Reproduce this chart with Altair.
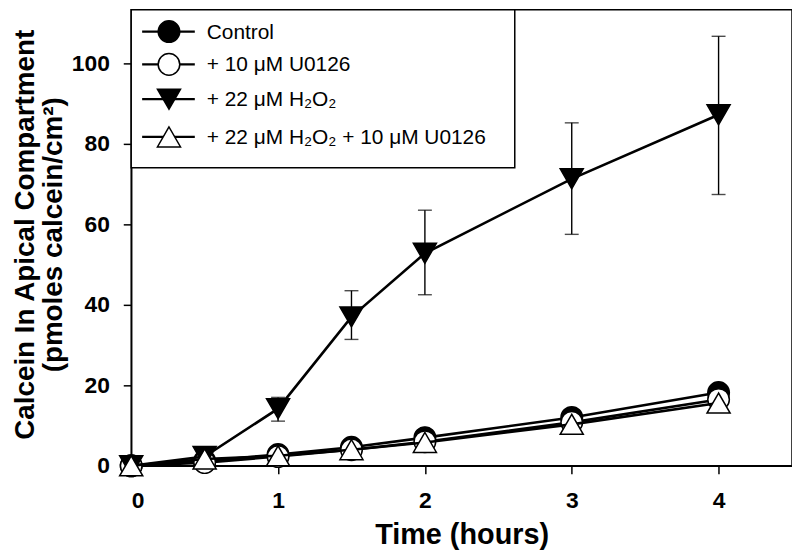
import altair as alt
import pandas as pd

# ---- data ----
times = [0, 0.5, 1, 1.5, 2, 3, 4]
series_names = ["Control", "+ 10 μM U0126", "+ 22 μM H₂O₂", "+ 22 μM H₂O₂ + 10 μM U0126"]
control = [0, 1.2, 2.8, 4.6, 7.0, 12.0, 18.2]
u0126 = [0, 0.8, 2.3, 4.0, 6.0, 10.8, 16.5]
h2o2 = [0, 2.3, 14.2, 37.0, 52.8, 71.3, 87.2]
h2o2_u0126 = [0, 1.7, 2.5, 4.0, 5.8, 10.3, 15.6]
err_times = [1, 1.5, 2, 3, 4]
h2o2_lo = [11.1, 31.4, 42.5, 57.5, 67.4]
h2o2_hi = [17.0, 43.5, 63.5, 85.2, 106.7]
x_ticks = [0, 1, 2, 3, 4]
y_ticks = [0, 20, 40, 60, 80, 100]

shapes = ["circle", "circle", "triangle-down", "triangle-up"]
fills = ["black", "white", "black", "white"]
sizes = [470, 470, 540, 540]

FONT = "Liberation Sans"

x_enc = alt.X(
    "t:Q",
    scale=alt.Scale(domain=[0, 4.5], nice=False, zero=False),
    axis=alt.Axis(values=x_ticks, title="Time (hours)", labelPadding=16,
                  titleY=78, titleBaseline="alphabetic", format="d"),
)
y_enc = alt.Y(
    "v:Q",
    scale=alt.Scale(domain=[0, 113.3], nice=False),
    axis=alt.Axis(values=y_ticks,
                  title=["Calcein In Apical Compartment", "(pmoles calcein/cm²)"],
                  labelPadding=14, titleX=-98, titleY=226,
                  titleBaseline="alphabetic", titleLineHeight=28, titleAngle=270,
                  titleFontSize=28),
)

layers = []
all_series = [control, u0126, h2o2, h2o2_u0126]
for i, vals in enumerate(all_series):
    df = pd.DataFrame({"t": times, "v": vals})
    layers.append(
        alt.Chart(df).mark_line(color="black", strokeWidth=2.6).encode(x=x_enc, y=y_enc)
    )
    if i == 2:
        edf = pd.DataFrame({"t": err_times, "v": h2o2_lo, "v2": h2o2_hi})
        layers.append(
            alt.Chart(edf).mark_rule(color="black", strokeWidth=1.4).encode(
                x=x_enc, y=y_enc, y2="v2:Q")
        )
        cap_df = pd.DataFrame({"t": err_times * 2, "v": h2o2_lo + h2o2_hi})
        layers.append(
            alt.Chart(cap_df).mark_tick(color="black", thickness=1.4, size=14,
                                        orient="horizontal").encode(x=x_enc, y=y_enc)
        )
    layers.append(
        alt.Chart(df).mark_point(shape=shapes[i], filled=True, fill=fills[i],
                                 stroke="black", strokeWidth=1.5, size=sizes[i],
                                 opacity=1).encode(x=x_enc, y=y_enc)
    )

# ---- legend box ----
one = pd.DataFrame({"a": [0]})
layers.append(
    alt.Chart(one).mark_rect(fill="white", stroke="black", strokeWidth=1.5).encode(
        x=alt.value(0), x2=alt.value(386), y=alt.value(0), y2=alt.value(159))
)
row_y = [22, 55, 90, 128]
for i, name in enumerate(series_names):
    layers.append(
        alt.Chart(one).mark_rule(color="black", strokeWidth=2.4).encode(
            x=alt.value(11), x2=alt.value(64), y=alt.value(row_y[i]))
    )
    layers.append(
        alt.Chart(one).mark_point(shape=shapes[i], filled=True, fill=fills[i],
                                  stroke="black", strokeWidth=1.5, size=sizes[i],
                                  opacity=1).encode(
            x=alt.value(38), y=alt.value(row_y[i]))
    )
    layers.append(
        alt.Chart(one).mark_text(align="left", baseline="middle", font=FONT,
                                 fontSize=21, color="black").encode(
            x=alt.value(76), y=alt.value(row_y[i] + 1), text=alt.value(name))
    )

chart = alt.layer(*layers).properties(
    width=665, height=459,
    autosize=alt.AutoSizeParams(type="none"),
    padding={"left": 124, "top": 0, "right": 0, "bottom": 88},
).configure_view(
    stroke="black", strokeWidth=1.5
).configure_axis(
    grid=False, domainColor="black", domainWidth=1.5, tickColor="black",
    tickWidth=1.5, tickSize=8, labelColor="black", titleColor="black",
    labelFont=FONT, labelFontWeight="bold", labelFontSize=23,
    titleFont=FONT, titleFontWeight="bold", titleFontSize=29,
)

chart.save("out.html", embed_options={"renderer": "svg", "actions": False})
